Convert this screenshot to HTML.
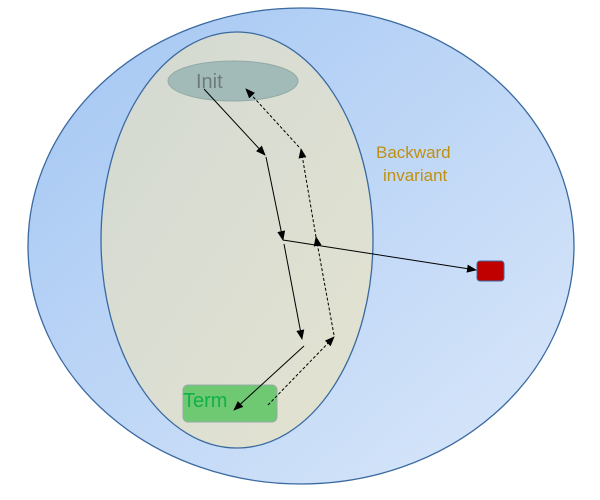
<!DOCTYPE html>
<html><head><style>body{margin:0;background:#fff}svg{display:block}</style></head><body>
<svg width="600" height="500" viewBox="0 0 600 500" xmlns="http://www.w3.org/2000/svg" font-family="Liberation Sans, sans-serif">
<defs>
<linearGradient id="g1" x1="0" y1="0" x2="1" y2="1"><stop offset="0" stop-color="#a3c6f3"/><stop offset="1" stop-color="#dbe8fa"/></linearGradient>
<linearGradient id="g2" x1="0" y1="0" x2="1" y2="1"><stop offset="0" stop-color="#d3d9d3"/><stop offset="1" stop-color="#e3e3d0"/></linearGradient>
<marker id="a" markerWidth="10" markerHeight="8" refX="9" refY="4" orient="auto" markerUnits="userSpaceOnUse"><path d="M0,0 L10,4 L0,8 z" fill="#000"/></marker>
</defs>
<ellipse cx="301" cy="246" rx="273" ry="238" fill="url(#g1)" stroke="#3a6aa0" stroke-width="1.3"/>
<ellipse cx="237" cy="240" rx="136" ry="208" fill="url(#g2)" stroke="#3a6aa0" stroke-width="1.3"/>
<ellipse cx="233" cy="81" rx="65" ry="20" fill="#a2bbb9" stroke="#93aaa6" stroke-width="1"/>
<text x="196" y="88" font-size="20" fill="#6f7b7b">Init</text>
<rect x="183" y="385" width="94" height="37" rx="5" fill="#6fc872" stroke="#9aa" stroke-width="1"/>
<text x="183" y="407" font-size="20" fill="#11b04a">Term</text>
<text x="376" y="158" font-size="17" fill="#c09010">Backward</text>
<text x="383" y="181" font-size="17" fill="#c09010">invariant</text>
<rect x="477" y="261" width="27" height="20" rx="3" fill="#c00000" stroke="#3a6aa0" stroke-width="1"/>
<g stroke="#000" stroke-width="1" fill="none">
<line x1="204" y1="89" x2="265" y2="155" marker-end="url(#a)"/>
<line x1="266" y1="157" x2="283" y2="240" marker-end="url(#a)"/>
<line x1="284" y1="244" x2="302" y2="339" marker-end="url(#a)"/>
<line x1="304" y1="346" x2="234" y2="410" marker-end="url(#a)"/>
<line x1="283" y1="240" x2="476" y2="270" marker-end="url(#a)"/>
<g stroke-dasharray="3,2">
<line x1="268" y1="405" x2="334" y2="337" marker-end="url(#a)"/>
<line x1="334" y1="335" x2="316" y2="237" marker-end="url(#a)"/>
<line x1="316" y1="237" x2="301" y2="149" marker-end="url(#a)"/>
<line x1="299" y1="147" x2="246" y2="89" marker-end="url(#a)"/>
</g></g>
</svg>
</body></html>
